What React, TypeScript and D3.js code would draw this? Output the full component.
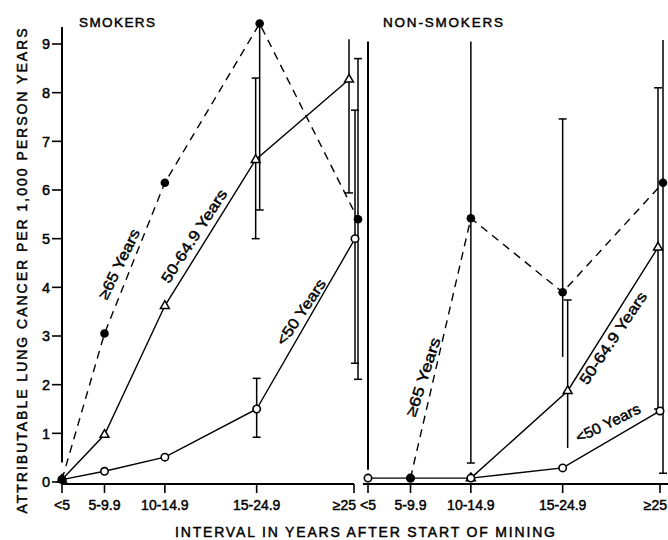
import React from "react";
import * as d3 from "d3";

// ---------- data ----------
const categories = ["<5", "5-9.9", "10-14.9", "15-24.9", "≥25"];
// relative axis position of each interval category (axis is not evenly spaced)
const categoryPos = [0, 1, 2.42, 4.58, 6.87];
const yTicks = [0, 1, 2, 3, 4, 5, 6, 7, 8, 9];

// Smokers
const smokersOld: (number | null)[] = [0.05, 3.05, 6.15, 9.42, 5.4];
const smokersMid: (number | null)[] = [0.05, 0.97, 3.62, 6.62, 8.27];
const smokersYoung: (number | null)[] = [0.05, 0.22, 0.51, 1.5, 5.0];

// Non-smokers
const nonOld: (number | null)[] = [null, 0.08, 5.42, 3.9, 6.15];
const nonMid: (number | null)[] = [null, null, 0.08, 1.87, 4.82];
const nonYoung: (number | null)[] = [0.08, 0.08, 0.08, 0.29, 1.46];

type Err = { cat: number; s: "old" | "mid" | "young"; lo: number; hi: number; capLo: boolean; capHi: boolean };
const smokersErr: Err[] = [
  { cat: 3, s: "young", lo: 0.92, hi: 2.13, capLo: true, capHi: true },
  { cat: 3, s: "mid", lo: 5.0, hi: 8.3, capLo: true, capHi: true },
  { cat: 3, s: "old", lo: 5.59, hi: 9.42, capLo: true, capHi: false },
  { cat: 4, s: "mid", lo: 5.94, hi: 9.1, capLo: true, capHi: false },
  { cat: 4, s: "young", lo: 2.44, hi: 7.64, capLo: true, capHi: true },
  { cat: 4, s: "old", lo: 2.11, hi: 8.7, capLo: true, capHi: true },
];
const nonErr: Err[] = [
  { cat: 2, s: "old", lo: 0.39, hi: 9.05, capLo: true, capHi: false },
  { cat: 3, s: "old", lo: 2.57, hi: 7.46, capLo: false, capHi: true },
  { cat: 3, s: "mid", lo: 0.7, hi: 3.74, capLo: false, capHi: true },
  { cat: 4, s: "mid", lo: 1.5, hi: 8.1, capLo: true, capHi: true },
  { cat: 4, s: "old", lo: 0.18, hi: 9.08, capLo: true, capHi: false },
];

// ---------- style / layout ----------
const W = 668;
const H = 540;
const FONT = "'Liberation Sans', Arial, sans-serif";
const TXT = { fontFamily: FONT, fill: "#000", stroke: "#000", strokeWidth: 0.45 };
const nudge: Record<string, number> = {
  "S-mid-3": -1, "S-old-3": 3,
  "S-mid-4": -5, "S-young-4": 1, "S-old-4": 4,
  "N-mid-3": 5,
  "N-mid-4": -2, "N-old-4": 3,
};

type Label = { text: string; cx: number; cy: number; angle: number; len: number };
const panels = [
  {
    key: "S", title: "SMOKERS", titleX: 79, titleLen: 76, x0: 62, axisX0: 62, axisX1: 354,
    yAxisTop: 9.35, yAxisBottom: 0.4, showYTicks: true, lastLabelEnd: 356,
    series: { old: smokersOld, mid: smokersMid, young: smokersYoung },
    errs: smokersErr,
    labels: [
      { text: "≥65 Years", cx: 119, cy: 264, angle: -64, len: 76 },
      { text: "50-64.9 Years", cx: 194, cy: 236, angle: -57, len: 108 },
      { text: "<50 Years", cx: 301, cy: 312, angle: -56, len: 76 },
    ] as Label[],
  },
  {
    key: "N", title: "NON-SMOKERS", titleX: 383, titleLen: 120, x0: 368, axisX0: 363, axisX1: 668,
    yAxisTop: 9.05, yAxisBottom: 0.25, showYTicks: false, lastLabelEnd: 667,
    series: { old: nonOld, mid: nonMid, young: nonYoung },
    errs: nonErr,
    labels: [
      { text: "≥65 Years", cx: 423, cy: 377, angle: -72, len: 82 },
      { text: "50-64.9 Years", cx: 613, cy: 338, angle: -56, len: 108 },
      { text: "<50 Years", cx: 608, cy: 423, angle: -26, len: 70 },
    ] as Label[],
  },
];

const y = d3.scaleLinear().domain([0, 9]).range([482, 44]);

function Panel({ p }: { p: (typeof panels)[number] }) {
  const x = d3.scaleLinear().domain([0, categoryPos[4]]).range([p.x0, p.x0 + 292]);
  const px = (s: string, i: number) => x(categoryPos[i]) + (nudge[`${p.key}-${s}-${i}`] || 0);
  const mkLine = (s: string) =>
    d3
      .line<number | null>()
      .defined((d) => d !== null)
      .x((_, i) => px(s, i))
      .y((d) => y(d as number));
  const lw = 1.4;
  return (
    <g>
      <text x={p.titleX} y={27} fontSize={13.5} textLength={p.titleLen} lengthAdjust="spacing" {...TXT}>
        {p.title}
      </text>
      {/* y axis */}
      <line x1={p.x0} x2={p.x0} y1={y(p.yAxisTop)} y2={y(p.yAxisBottom)} stroke="#000" strokeWidth={2} />
      {p.showYTicks &&
        yTicks.map((t) => (
          <g key={t}>
            <line x1={p.x0 - 10} x2={p.x0} y1={y(t)} y2={y(t)} stroke="#000" strokeWidth={1.6} />
            <text x={p.x0 - 12} y={y(t)} dy="0.36em" textAnchor="end" fontSize={14.5} {...TXT}>
              {t}
            </text>
          </g>
        ))}
      {/* x axis */}
      <line x1={p.axisX0} x2={p.axisX1} y1={y(0) + 2} y2={y(0) + 2} stroke="#000" strokeWidth={1.8} />
      {categories.map((c, i) => {
        const last = i === categories.length - 1;
        return (
          <g key={c}>
            <line x1={x(categoryPos[i])} x2={x(categoryPos[i])} y1={y(0) + 2} y2={y(0) + 11} stroke="#000" strokeWidth={1.6} />
            <text
              x={last ? p.lastLabelEnd : x(categoryPos[i])}
              y={505}
              dy="0.36em"
              textAnchor={last ? "end" : "middle"}
              fontSize={14}
              {...TXT}
            >
              {c}
            </text>
          </g>
        );
      })}
      {/* error bars */}
      {p.errs.map((e, k) => {
        const cx = px(e.s, e.cat);
        return (
          <g key={k} stroke="#000" strokeWidth={1.5}>
            <line x1={cx} x2={cx} y1={y(e.lo)} y2={y(e.hi)} />
            {e.capLo && <line x1={cx - 4} x2={cx + 4} y1={y(e.lo)} y2={y(e.lo)} />}
            {e.capHi && <line x1={cx - 4} x2={cx + 4} y1={y(e.hi)} y2={y(e.hi)} />}
          </g>
        );
      })}
      {/* lines */}
      <path d={mkLine("mid")(p.series.mid) || ""} fill="none" stroke="#000" strokeWidth={lw} />
      <path d={mkLine("young")(p.series.young) || ""} fill="none" stroke="#000" strokeWidth={lw} />
      <path d={mkLine("old")(p.series.old) || ""} fill="none" stroke="#000" strokeWidth={lw} strokeDasharray="8,6" />
      {/* markers */}
      {p.series.mid.map((v, i) =>
        v === null ? null : (
          <path
            key={"m" + i}
            transform={`translate(${px("mid", i)},${y(v)})`}
            d={d3.symbol(d3.symbolTriangle, 34)() || ""}
            fill="#fff"
            stroke="#000"
            strokeWidth={1.5}
          />
        )
      )}
      {p.series.young.map((v, i) =>
        v === null ? null : (
          <circle key={"y" + i} cx={px("young", i)} cy={y(v)} r={3.7} fill="#fff" stroke="#000" strokeWidth={1.6} />
        )
      )}
      {p.series.old.map((v, i) =>
        v === null ? null : <circle key={"o" + i} cx={px("old", i)} cy={y(v)} r={4.3} fill="#000" />
      )}
      {/* in-plot labels */}
      {p.labels.map((l) => (
        <text
          key={l.text}
          transform={`translate(${l.cx},${l.cy}) rotate(${l.angle})`}
          x={-l.len / 2}
          dy="0.35em"
          fontSize={15}
          textLength={l.len}
          lengthAdjust="spacingAndGlyphs"
          {...TXT}
        >
          {l.text}
        </text>
      ))}
    </g>
  );
}

export default function App() {
  return (
    <svg
      width={W}
      height={H}
      viewBox={`0 0 ${W} ${H}`}
      style={{ position: "absolute", left: 0, top: 0, background: "#fff" }}
    >
      <rect x={0} y={0} width={W} height={H} fill="#fff" />
      {panels.map((p) => (
        <Panel key={p.key} p={p} />
      ))}
      <text
        transform="translate(22,271) rotate(-90)"
        textAnchor="middle"
        dy="0.36em"
        fontSize={14}
        textLength={485}
        lengthAdjust="spacing"
        {...TXT}
      >
        ATTRIBUTABLE LUNG CANCER PER 1,000 PERSON YEARS
      </text>
      <text
        x={365}
        y={532}
        dy="0.36em"
        textAnchor="middle"
        fontSize={14}
        textLength={380}
        lengthAdjust="spacing"
        {...TXT}
      >
        INTERVAL IN YEARS AFTER START OF MINING
      </text>
    </svg>
  );
}
